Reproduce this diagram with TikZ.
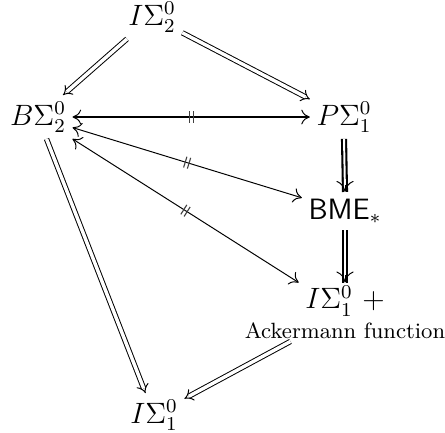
\documentclass[tikz,border=0pt]{standalone}
\usetikzlibrary{arrows.meta,decorations.markings}
\begin{document}
\begin{tikzpicture}[x=0.408pt,y=-0.408pt,
  lbl/.style={font=\large, inner sep=2.5pt},
  dbl/.style={double, double distance=1.4pt, line width=0.4pt, -{Implies}},
  thickdbl/.style={double, double distance=0.8pt, line width=0.85pt},
  vtip/.style={-{To[length=4.5pt,width=7pt,line width=0.4pt]}},
  bitip/.style={{To[length=3.5pt,width=6pt,line width=0.4pt]}-{To[length=3.5pt,width=6pt,line width=0.4pt]}},
  ticks/.style={postaction={decorate}, decoration={markings, mark=at position 0.5 with {\draw[-, line width=0.45pt, black!75] (-0.8pt,-2.3pt)--(-0.8pt,2.3pt) (0.8pt,-2.3pt)--(0.8pt,2.3pt);}}},
]
\useasboundingbox (0,0) rectangle (445,432);
\node[lbl] (i2) at (152,17) {$I\Sigma^0_2$};
\node[lbl] (b2) at (38,117) {$B\Sigma^0_2$};
\node[lbl] (p1) at (344,117) {$P\Sigma^0_1$};
\node[lbl] (bme) at (345,211) {$\mathsf{BME}_*$};
\node[lbl, align=center, inner sep=1pt] (ack) at (345,312) {$I\Sigma^0_1$ $+$\\[-2pt]{\small Ackermann function}};
\node[lbl] (i1) at (154,415) {$I\Sigma^0_1$};

\draw[dbl] (i2) -- (b2);
\draw[dbl] (i2) -- (p1);
\draw[line width=1pt, bitip, ticks] (b2) -- (p1);
\draw[bitip, ticks] (b2) -- (bme);
\draw[bitip, ticks] (b2) -- (ack);
\draw[dbl] (b2) -- (i1);
\draw[dbl] (ack) -- (i1);
\draw[thickdbl] (p1.south) -- (bme.north);
\draw[vtip] ([yshift=3pt]bme.north) -- (bme.north);
\draw[thickdbl] (bme.south) -- (ack.north);
\draw[vtip] ([yshift=3pt]ack.north) -- (ack.north);
\end{tikzpicture}
\end{document}
